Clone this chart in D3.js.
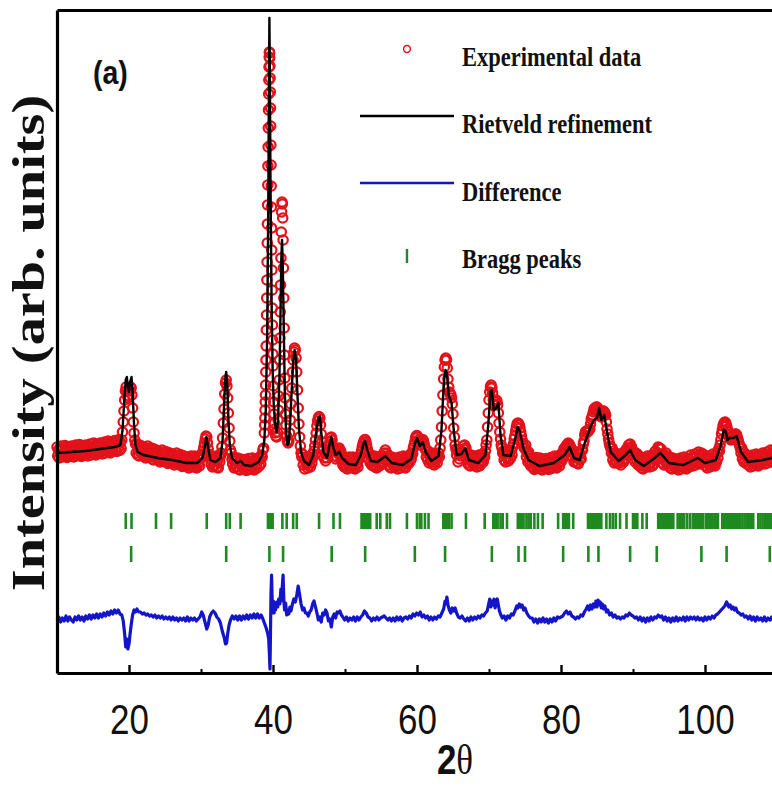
<!DOCTYPE html>
<html>
<head>
<meta charset="utf-8">
<script src="https://cdn.jsdelivr.net/npm/d3@7"></script>
<style>
  body { margin: 0; background: #fff; }
  svg { display: block; }
</style>
</head>
<body>
<div id="chart"></div>
<script>
const canvas = { w: 772, h: 786 };
const plot = { left: 57, right: 777, top: 10, bottom: 673 };
const stretch = 1.2;

// observed pattern [2theta, counts]
const observed = [
[10,2260],[10.1,2170],[10.2,2230],[10.3,2150],[10.4,2250],[10.5,2190],[10.6,2270],[10.7,2160],[10.8,2240],[10.9,2180],
[11,2185],[11.1,2275],[11.2,2165],[11.3,2225],[11.4,2155],[11.5,2265],[11.6,2195],[11.7,2255],[11.8,2175],[11.9,2245],
[12,2270],[12.1,2180],[12.2,2240],[12.3,2160],[12.4,2260],[12.5,2200],[12.6,2280],[12.7,2170],[12.8,2250],[12.9,2190],
[13,2195],[13.1,2285],[13.2,2175],[13.3,2235],[13.4,2165],[13.5,2275],[13.6,2205],[13.7,2265],[13.8,2185],[13.9,2255],
[14,2280],[14.1,2190],[14.2,2250],[14.3,2170],[14.4,2270],[14.5,2210],[14.6,2290],[14.7,2180],[14.8,2260],[14.9,2200],
[15,2210],[15.1,2300],[15.2,2190],[15.3,2250],[15.4,2180],[15.5,2290],[15.6,2220],[15.7,2280],[15.8,2200],[15.9,2270],
[16,2300],[16.1,2210],[16.2,2270],[16.3,2190],[16.4,2290],[16.5,2230],[16.6,2310],[16.7,2200],[16.8,2280],[16.9,2220],
[17,2230],[17.1,2320],[17.2,2210],[17.3,2270],[17.4,2200],[17.5,2310],[17.6,2240],[17.7,2300],[17.8,2220],[17.9,2290],
[18,2325],[18.1,2235],[18.2,2295],[18.3,2215],[18.4,2315],[18.5,2255],[18.6,2335],[18.7,2225],[18.8,2305],[18.9,2245],
[19,2330],[19.1,2410],[19.2,2510],[19.3,2620],[19.4,2730],[19.5,2820],[19.6,2860],[19.7,2820],[19.8,2770],[19.9,2750],
[20,2770],[20.1,2820],[20.2,2860],[20.3,2850],[20.4,2780],[20.5,2650],[20.6,2510],[20.7,2400],[20.8,2330],[20.9,2290],
[21,2200],[21.1,2290],[21.2,2180],[21.3,2240],[21.4,2170],[21.5,2280],[21.6,2210],[21.7,2270],[21.8,2190],[21.9,2260],
[22,2260],[22.1,2170],[22.2,2230],[22.3,2150],[22.4,2250],[22.5,2190],[22.6,2270],[22.7,2160],[22.8,2240],[22.9,2180],
[23,2160],[23.1,2250],[23.2,2140],[23.3,2200],[23.4,2130],[23.5,2240],[23.6,2170],[23.7,2230],[23.8,2150],[23.9,2220],
[24,2220],[24.1,2130],[24.2,2190],[24.3,2110],[24.4,2210],[24.5,2150],[24.6,2230],[24.7,2120],[24.8,2200],[24.9,2140],
[25,2125],[25.1,2215],[25.2,2105],[25.3,2165],[25.4,2095],[25.5,2205],[25.6,2135],[25.7,2195],[25.8,2115],[25.9,2185],
[26,2190],[26.1,2100],[26.2,2160],[26.3,2080],[26.4,2180],[26.5,2120],[26.6,2200],[26.7,2090],[26.8,2170],[26.9,2110],
[27,2095],[27.1,2185],[27.2,2075],[27.3,2135],[27.4,2065],[27.5,2175],[27.6,2105],[27.7,2165],[27.8,2085],[27.9,2155],
[28,2160],[28.1,2070],[28.2,2130],[28.3,2050],[28.4,2150],[28.5,2090],[28.6,2170],[28.7,2060],[28.8,2140],[28.9,2080],
[29,2080],[29.1,2170],[29.2,2060],[29.3,2120],[29.4,2050],[29.5,2160],[29.6,2090],[29.7,2150],[29.8,2070],[29.9,2140],
[30,2150],[30.1,2190],[30.2,2170],[30.3,2220],[30.4,2260],[30.5,2300],[30.6,2340],[30.7,2370],[30.8,2360],[30.9,2300],
[31,2240],[31.1,2190],[31.2,2170],[31.3,2140],[31.4,2090],[31.5,2160],[31.6,2060],[31.7,2150],[31.8,2070],[31.9,2160],
[32,2080],[32.1,2170],[32.2,2060],[32.3,2120],[32.4,2050],[32.5,2160],[32.6,2110],[32.7,2170],[32.8,2200],[32.9,2260],
[33,2350],[33.1,2500],[33.2,2640],[33.3,2790],[33.4,2900],[33.5,2930],[33.6,2870],[33.7,2750],[33.8,2600],[33.9,2450],
[34,2320],[34.1,2230],[34.2,2200],[34.3,2140],[34.4,2090],[34.5,2160],[34.6,2050],[34.7,2130],[34.8,2060],[34.9,2120],
[35,2060],[35.1,2150],[35.2,2040],[35.3,2100],[35.4,2030],[35.5,2140],[35.6,2070],[35.7,2130],[35.8,2050],[35.9,2120],
[36,2135],[36.1,2045],[36.2,2105],[36.3,2025],[36.4,2125],[36.5,2065],[36.6,2145],[36.7,2035],[36.8,2115],[36.9,2055],
[37,2060],[37.1,2150],[37.2,2040],[37.3,2100],[37.4,2030],[37.5,2140],[37.6,2070],[37.7,2130],[37.8,2050],[37.9,2120],
[38,2150],[38.1,2070],[38.2,2140],[38.3,2090],[38.4,2180],[38.5,2160],[38.6,2230],[38.7,2250],[38.8,2400],[38.85,2480],
[38.875,2550],[38.9,2630],[38.925,2710],[38.95,2780],[38.975,2880],[39,3010],[39.025,3130],[39.05,3270],[39.075,3430],[39.1,3580],
[39.125,3750],[39.15,3930],[39.175,4110],[39.2,4300],[39.225,4490],[39.25,4680],[39.275,4880],[39.3,5070],[39.325,5260],[39.35,5450],
[39.375,5630],[39.4,5790],[39.425,5930],[39.45,6060],[39.475,6160],[39.5,6210],[39.525,6200],[39.55,6150],[39.575,6070],[39.6,5950],
[39.625,5810],[39.65,5650],[39.675,5470],[39.7,5280],[39.725,5080],[39.75,4870],[39.775,4660],[39.8,4450],[39.825,4230],[39.85,4030],
[39.875,3830],[39.9,3650],[39.925,3480],[39.95,3330],[39.975,3190],[40,3070],[40.05,2870],[40.1,2710],[40.15,2590],[40.2,2500],
[40.25,2440],[40.3,2400],[40.4,2370],[40.5,2360],[40.6,2410],[40.7,2530],[40.75,2630],[40.8,2770],[40.85,2930],[40.9,3130],
[40.95,3350],[41,3610],[41.05,3880],[41.1,4150],[41.15,4410],[41.2,4610],[41.25,4710],[41.3,4690],[41.35,4550],[41.4,4330],
[41.45,4050],[41.5,3750],[41.55,3450],[41.6,3180],[41.65,2950],[41.7,2750],[41.75,2590],[41.8,2480],[41.9,2370],[42,2320],
[42.1,2300],[42.2,2320],[42.3,2400],[42.4,2530],[42.5,2690],[42.6,2850],[42.7,3010],[42.8,3130],[42.9,3210],[43,3250],
[43.1,3230],[43.2,3150],[43.3,3010],[43.4,2830],[43.5,2650],[43.6,2490],[43.7,2360],[43.8,2270],[43.9,2200],[44,2160],
[44.1,2190],[44.2,2080],[44.3,2140],[44.4,2040],[44.5,2150],[44.6,2090],[44.7,2160],[44.8,2050],[44.9,2130],
[45,2070],[45.1,2160],[45.2,2060],[45.3,2140],[45.4,2100],[45.5,2190],[45.6,2160],[45.7,2220],[45.8,2270],[45.9,2330],
[46,2400],[46.1,2470],[46.2,2520],[46.3,2550],[46.4,2565],[46.5,2550],[46.6,2480],[46.7,2390],[46.8,2310],[46.9,2250],
[47,2230],[47.1,2150],[47.2,2200],[47.3,2120],[47.4,2190],[47.5,2150],[47.6,2210],[47.7,2230],[47.8,2280],[47.9,2310],
[48,2350],[48.1,2360],[48.2,2330],[48.3,2270],[48.4,2230],[48.5,2170],[48.6,2230],[48.7,2140],[48.8,2220],[48.9,2160],
[49,2240],[49.1,2190],[49.2,2250],[49.3,2200],[49.4,2220],[49.5,2140],[49.6,2180],[49.7,2080],[49.8,2150],[49.9,2060],
[50,2150],[50.1,2060],[50.2,2120],[50.3,2040],[50.4,2140],[50.5,2080],[50.6,2160],[50.7,2050],[50.8,2130],[50.9,2070],
[51,2070],[51.1,2160],[51.2,2050],[51.3,2110],[51.4,2040],[51.5,2150],[51.6,2080],[51.7,2140],[51.8,2060],[51.9,2130],
[52,2150],[52.1,2160],[52.2,2190],[52.3,2220],[52.4,2260],[52.5,2290],[52.6,2310],[52.7,2330],[52.8,2335],[52.9,2310],
[53,2280],[53.1,2240],[53.2,2210],[53.3,2140],[53.4,2190],[53.5,2100],[53.6,2170],[53.7,2080],[53.8,2150],[53.9,2070],
[54,2080],[54.1,2170],[54.2,2060],[54.3,2120],[54.4,2050],[54.5,2160],[54.6,2090],[54.7,2150],[54.8,2070],[54.9,2140],
[55,2170],[55.1,2090],[55.2,2160],[55.3,2110],[55.4,2200],[55.5,2170],[55.6,2230],[55.7,2160],[55.8,2200],[55.9,2120],
[56,2080],[56.1,2170],[56.2,2060],[56.3,2120],[56.4,2050],[56.5,2160],[56.6,2090],[56.7,2150],[56.8,2070],[56.9,2140],
[57,2150],[57.1,2060],[57.2,2120],[57.3,2040],[57.4,2140],[57.5,2080],[57.6,2160],[57.7,2050],[57.8,2130],[57.9,2070],
[58,2080],[58.1,2170],[58.2,2060],[58.3,2120],[58.4,2050],[58.5,2160],[58.6,2100],[58.7,2160],[58.8,2090],[58.9,2170],
[59,2110],[59.1,2190],[59.2,2140],[59.3,2200],[59.4,2190],[59.5,2250],[59.6,2280],[59.7,2310],[59.8,2350],[59.9,2370],
[60,2375],[60.1,2360],[60.2,2330],[60.3,2300],[60.4,2280],[60.5,2285],[60.6,2310],[60.7,2330],[60.8,2335],[60.9,2320],
[61,2290],[61.1,2250],[61.2,2230],[61.3,2160],[61.4,2230],[61.5,2130],[61.6,2190],[61.7,2100],[61.8,2180],[61.9,2120],
[62,2110],[62.1,2200],[62.2,2090],[62.3,2150],[62.4,2080],[62.5,2190],[62.6,2120],[62.7,2180],[62.8,2100],[62.9,2170],
[63,2200],[63.1,2160],[63.2,2250],[63.3,2330],[63.4,2460],[63.5,2620],[63.6,2780],[63.7,2940],[63.8,3060],[63.9,3130],
[64,3150],[64.1,3130],[64.2,3050],[64.3,2940],[64.4,2860],[64.5,2810],[64.6,2795],[64.7,2780],[64.8,2750],[64.9,2690],
[65,2590],[65.1,2450],[65.2,2360],[65.3,2280],[65.4,2240],[65.5,2180],[65.6,2230],[65.7,2110],[65.8,2200],[65.9,2140],
[66,2210],[66.1,2170],[66.2,2220],[66.3,2210],[66.4,2270],[66.5,2240],[66.6,2280],[66.7,2240],[66.8,2250],[66.9,2180],
[67,2100],[67.1,2190],[67.2,2080],[67.3,2140],[67.4,2070],[67.5,2180],[67.6,2110],[67.7,2170],[67.8,2090],[67.9,2160],
[68,2170],[68.1,2080],[68.2,2140],[68.3,2060],[68.4,2160],[68.5,2100],[68.6,2180],[68.7,2070],[68.8,2150],[68.9,2090],
[69,2110],[69.1,2190],[69.2,2110],[69.3,2180],[69.4,2160],[69.5,2220],[69.6,2280],[69.7,2330],[69.8,2460],[69.9,2600],
[70,2730],[70.1,2810],[70.2,2860],[70.3,2880],[70.4,2850],[70.5,2800],[70.6,2730],[70.7,2690],[70.8,2685],[70.9,2710],
[71,2730],[71.1,2720],[71.2,2680],[71.3,2600],[71.4,2500],[71.5,2410],[71.6,2340],[71.7,2280],[71.8,2250],[71.9,2200],
[72,2220],[72.1,2130],[72.2,2190],[72.3,2110],[72.4,2210],[72.5,2150],[72.6,2230],[72.7,2120],[72.8,2200],[72.9,2140],
[73,2150],[73.1,2230],[73.2,2180],[73.3,2260],[73.4,2290],[73.5,2340],[73.6,2370],[73.7,2420],[73.8,2460],[73.9,2490],
[74,2500],[74.1,2495],[74.2,2480],[74.3,2450],[74.4,2410],[74.5,2370],[74.6,2330],[74.7,2300],[74.8,2270],[74.9,2250],
[75,2240],[75.1,2280],[75.2,2160],[75.3,2200],[75.4,2110],[75.5,2210],[75.6,2120],[75.7,2170],[75.8,2070],[75.9,2150],
[76,2145],[76.1,2055],[76.2,2115],[76.3,2035],[76.4,2135],[76.5,2075],[76.6,2155],[76.7,2045],[76.8,2125],[76.9,2065],
[77,2060],[77.1,2150],[77.2,2040],[77.3,2100],[77.4,2030],[77.5,2140],[77.6,2070],[77.7,2130],[77.8,2050],[77.9,2120],
[78,2145],[78.1,2055],[78.2,2115],[78.3,2035],[78.4,2135],[78.5,2075],[78.6,2155],[78.7,2045],[78.8,2125],[78.9,2065],
[79,2080],[79.1,2170],[79.2,2060],[79.3,2120],[79.4,2050],[79.5,2160],[79.6,2090],[79.7,2150],[79.8,2070],[79.9,2140],
[80,2190],[80.1,2120],[80.2,2190],[80.3,2150],[80.4,2240],[80.5,2200],[80.6,2260],[80.7,2230],[80.8,2280],[80.9,2270],
[81,2300],[81.1,2290],[81.2,2280],[81.3,2260],[81.4,2250],[81.5,2230],[81.6,2160],[81.7,2200],[81.8,2110],[81.9,2180],
[82,2120],[82.1,2210],[82.2,2100],[82.3,2160],[82.4,2090],[82.5,2200],[82.6,2130],[82.7,2190],[82.8,2140],[82.9,2230],
[83,2230],[83.1,2290],[83.2,2320],[83.3,2380],[83.4,2410],[83.5,2420],[83.6,2420],[83.7,2410],[83.8,2420],[83.9,2430],
[84,2440],[84.1,2490],[84.2,2540],[84.3,2560],[84.4,2580],[84.5,2610],[84.6,2640],[84.7,2650],[84.8,2650],[84.9,2660],
[85,2660],[85.1,2640],[85.2,2620],[85.3,2610],[85.4,2600],[85.5,2580],[85.6,2560],[85.7,2590],[85.8,2620],[85.9,2620],
[86,2610],[86.1,2600],[86.2,2580],[86.3,2510],[86.4,2440],[86.5,2390],[86.6,2340],[86.7,2300],[86.8,2270],[86.9,2250],
[87,2200],[87.1,2250],[87.2,2130],[87.3,2180],[87.4,2100],[87.5,2200],[87.6,2120],[87.7,2180],[87.8,2100],[87.9,2170],
[88,2190],[88.1,2100],[88.2,2160],[88.3,2080],[88.4,2180],[88.5,2120],[88.6,2200],[88.7,2110],[88.8,2180],[88.9,2140],
[89,2230],[89.1,2180],[89.2,2250],[89.3,2220],[89.4,2280],[89.5,2250],[89.6,2290],[89.7,2240],[89.8,2260],[89.9,2180],
[90,2220],[90.1,2140],[90.2,2190],[90.3,2110],[90.4,2200],[90.5,2140],[90.6,2190],[90.7,2080],[90.8,2160],[90.9,2100],
[91,2070],[91.1,2160],[91.2,2050],[91.3,2110],[91.4,2040],[91.5,2150],[91.6,2080],[91.7,2140],[91.8,2060],[91.9,2130],
[92,2170],[92.1,2080],[92.2,2140],[92.3,2060],[92.4,2160],[92.5,2100],[92.6,2180],[92.7,2070],[92.8,2150],[92.9,2090],
[93,2130],[93.1,2220],[93.2,2130],[93.3,2200],[93.4,2150],[93.5,2260],[93.6,2190],[93.7,2250],[93.8,2180],[93.9,2240],
[94,2190],[94.1,2100],[94.2,2160],[94.3,2080],[94.4,2180],[94.5,2120],[94.6,2200],[94.7,2090],[94.8,2170],[94.9,2110],
[95,2070],[95.1,2160],[95.2,2050],[95.3,2110],[95.4,2040],[95.5,2150],[95.6,2080],[95.7,2140],[95.8,2060],[95.9,2130],
[96,2140],[96.1,2050],[96.2,2110],[96.3,2030],[96.4,2130],[96.5,2070],[96.6,2150],[96.7,2040],[96.8,2120],[96.9,2060],
[97,2070],[97.1,2160],[97.2,2050],[97.3,2110],[97.4,2040],[97.5,2150],[97.6,2080],[97.7,2140],[97.8,2060],[97.9,2130],
[98,2180],[98.1,2090],[98.2,2150],[98.3,2070],[98.4,2170],[98.5,2110],[98.6,2190],[98.7,2080],[98.8,2160],[98.9,2100],
[99,2120],[99.1,2210],[99.2,2100],[99.3,2160],[99.4,2090],[99.5,2200],[99.6,2130],[99.7,2190],[99.8,2110],[99.9,2180],
[100,2160],[100.1,2070],[100.2,2130],[100.3,2050],[100.4,2150],[100.5,2090],[100.6,2170],[100.7,2060],[100.8,2140],[100.9,2080],
[101,2100],[101.1,2190],[101.2,2080],[101.3,2140],[101.4,2070],[101.5,2180],[101.6,2110],[101.7,2200],[101.8,2150],[101.9,2240],
[102,2220],[102.1,2280],[102.2,2330],[102.3,2390],[102.4,2430],[102.5,2470],[102.6,2490],[102.7,2505],[102.8,2510],[102.9,2495],
[103,2470],[103.1,2440],[103.2,2410],[103.3,2380],[103.4,2360],[103.5,2340],[103.6,2330],[103.7,2340],[103.8,2350],[103.9,2360],
[104,2370],[104.1,2380],[104.2,2390],[104.3,2390],[104.4,2380],[104.5,2350],[104.6,2330],[104.7,2300],[104.8,2280],[104.9,2250],
[105,2200],[105.1,2250],[105.2,2140],[105.3,2190],[105.4,2110],[105.5,2200],[105.6,2120],[105.7,2170],[105.8,2090],[105.9,2160],
[106,2170],[106.1,2080],[106.2,2140],[106.3,2060],[106.4,2160],[106.5,2100],[106.6,2180],[106.7,2070],[106.8,2150],[106.9,2090],
[107,2100],[107.1,2190],[107.2,2080],[107.3,2140],[107.4,2070],[107.5,2180],[107.6,2110],[107.7,2170],[107.8,2090],[107.9,2160],
[108,2200],[108.1,2110],[108.2,2170],[108.3,2090],[108.4,2190],[108.5,2130],[108.6,2210],[108.7,2100],[108.8,2180],[108.9,2120],
[109,2140],[109.1,2230],[109.2,2120],[109.3,2180],[109.4,2110],[109.5,2220],[109.6,2150],[109.7,2210],[109.8,2130],[109.9,2200],
[110,2170]
];

// Rietveld fit [2theta, counts]
const calculated = [
[10,2200],[12,2210],[14,2220],[16,2240],[17,2250],[18,2260],[18.8,2280],[19.1,2430],[19.35,2730],[19.55,2930],[19.7,2960],[19.85,2850],[20,2810],
[20.15,2910],[20.35,2960],[20.5,2810],[20.7,2480],[20.9,2280],[21.2,2210],[22,2180],[24,2150],[26,2130],[28,2100],[29.5,2100],[30.2,2150],[30.5,2250],
[30.75,2360],[31,2250],[31.3,2130],[32,2110],[32.7,2150],[33,2330],[33.2,2680],[33.35,2930],[33.5,3010],[33.65,2880],[33.8,2550],[34,2280],[34.3,2150],
[35,2100],[35.5,2120],[36,2080],[37,2070],[38,2110],[38.5,2180],[38.8,2330],[39,2630],[39.2,3430],[39.35,4730],[39.45,6030],[39.5,6550],[39.55,6130],
[39.65,4930],[39.8,3730],[39.95,3030],[40.1,2680],[40.3,2480],[40.5,2410],[40.7,2530],[40.9,2980],[41.05,3630],[41.15,4130],[41.25,4330],[41.35,4110],
[41.5,3430],[41.65,2780],[41.8,2430],[42,2280],[42.2,2300],[42.4,2530],[42.6,2830],[42.8,3110],[43,3230],[43.2,3130],[43.4,2780],[43.6,2450],[43.9,2210],
[44.3,2120],[45,2080],[45.6,2180],[46,2410],[46.3,2550],[46.5,2570],[46.7,2410],[47,2210],[47.5,2150],[47.9,2300],[48.1,2360],[48.3,2280],[48.7,2180],
[49.2,2210],[49.6,2150],[50.5,2090],[51.5,2080],[52.2,2180],[52.6,2300],[52.8,2320],[53.1,2230],[53.6,2120],[54.5,2110],[55.6,2170],[56.5,2100],[58,2080],
[59.2,2140],[59.7,2290],[60,2350],[60.4,2270],[60.8,2310],[61.2,2210],[62,2120],[63,2170],[63.4,2430],[63.7,2880],[63.95,3030],[64.15,3000],[64.4,2780],
[64.8,2700],[65.1,2430],[65.5,2180],[66.2,2190],[66.7,2250],[67.2,2130],[68.5,2100],[69.5,2180],[69.9,2480],[70.2,2810],[70.4,2830],[70.65,2630],
[71,2650],[71.3,2700],[71.6,2380],[72,2180],[73,2170],[73.6,2330],[74,2460],[74.3,2410],[74.8,2240],[75.5,2130],[77,2070],[79,2100],[80.5,2180],
[81.2,2260],[81.8,2150],[82.6,2130],[83.2,2280],[83.7,2380],[84.2,2480],[84.6,2530],[85,2550],[85.3,2650],[85.6,2530],[86,2580],[86.4,2410],[86.9,2210],
[88,2120],[89,2180],[89.6,2230],[90.3,2130],[91.5,2070],[93,2150],[93.8,2200],[95,2100],[97,2080],[99,2150],[100,2100],[101.5,2130],[102.2,2280],
[102.6,2430],[102.9,2410],[103.1,2330],[103.4,2350],[104,2350],[104.4,2370],[105,2210],[106,2110],[108,2130],[110,2160]
];

// observed minus calculated [2theta, counts]
const difference = [
[10,-10],[10.25,20],[10.5,-30],[10.75,10],[11,-20],[11.25,30],[11.5,-20],[11.75,20],[12,-10],[12.25,-30],[12.5,20],[12.75,-10],[13,30],[13.25,-10],
[13.5,20],[13.75,-20],[14,30],[14.25,0],[14.5,40],[14.75,0],[15,40],[15.25,10],[15.5,50],[15.75,10],[16,50],[16.25,20],[16.5,60],[16.75,30],[17,70],
[17.25,40],[17.5,80],[17.75,50],[18,90],[18.25,60],[18.5,90],[18.75,50],[19,40],[19.2,-20],[19.4,-150],[19.55,-280],[19.7,-200],[19.85,-300],[20,-250],
[20.15,-150],[20.3,-60],[20.5,40],[20.7,90],[20.9,70],[21.1,100],[21.35,70],[21.6,70],[21.85,50],[22.1,60],[22.35,40],[22.6,50],[22.85,30],[23.1,40],
[23.35,20],[23.6,40],[23.85,10],[24.1,30],[24.35,10],[24.6,30],[24.85,0],[25.1,20],[25.35,0],[25.6,20],[25.85,-10],[26.1,20],[26.35,-10],[26.6,10],
[26.85,-20],[27.1,10],[27.35,-10],[27.6,10],[27.85,-20],[28.1,20],[28.35,-20],[28.6,10],[28.85,-10],[29.1,10],[29.35,-20],[29.6,0],[29.85,20],
[30.1,70],[30.3,40],[30.55,-30],[30.8,-100],[31,-60],[31.2,20],[31.45,60],[31.7,80],[31.95,60],[32.2,20],[32.45,0],[32.7,-40],[32.95,-120],[33.2,-180],
[33.4,-250],[33.55,-240],[33.7,-150],[33.9,-60],[34.1,-10],[34.35,30],[34.6,0],[34.85,30],[35.1,-10],[35.35,30],[35.6,-10],[35.85,30],[36.1,0],
[36.35,40],[36.6,0],[36.85,40],[37.1,10],[37.35,50],[37.6,10],[37.85,50],[38.1,10],[38.35,40],[38.6,0],[38.85,-50],[39.05,-90],[39.25,-140],[39.4,-200],
[39.5,-350],[39.58,-500],[39.65,-150],[39.72,250],[39.8,440],[39.88,200],[39.95,60],[40.05,180],[40.15,60],[40.25,140],[40.35,90],[40.5,170],[40.65,120],
[40.8,200],[40.95,150],[41.1,300],[41.2,180],[41.3,340],[41.4,440],[41.5,200],[41.6,90],[41.75,160],[41.9,40],[42.05,90],[42.2,50],[42.35,120],[42.5,80],
[42.7,150],[42.9,200],[43.1,170],[43.3,240],[43.5,330],[43.7,240],[43.9,150],[44.1,90],[44.3,110],[44.5,60],[44.7,60],[44.9,30],[45.1,70],[45.3,90],
[45.5,150],[45.7,180],[45.9,120],[46.1,60],[46.3,-10],[46.5,20],[46.7,-30],[46.9,60],[47.1,40],[47.3,90],[47.5,60],[47.7,-20],[47.9,0],[48.1,-80],
[48.3,20],[48.5,50],[48.7,10],[48.9,70],[49.1,60],[49.3,80],[49.5,40],[49.7,20],[49.95,-10],[50.2,20],[50.45,-20],[50.7,10],[50.95,-10],[51.2,20],
[51.45,-20],[51.7,20],[51.95,-10],[52.2,20],[52.45,40],[52.7,80],[52.95,60],[53.2,20],[53.45,10],[53.7,-20],[53.95,10],[54.2,-10],[54.45,20],[54.7,-10],
[54.95,10],[55.2,20],[55.45,30],[55.7,10],[55.95,-10],[56.2,10],[56.45,-20],[56.7,10],[56.95,-20],[57.2,20],[57.45,-10],[57.7,20],[57.95,-20],[58.2,10],
[58.45,20],[58.7,0],[58.95,30],[59.2,10],[59.45,50],[59.7,30],[59.95,60],[60.2,40],[60.45,70],[60.7,20],[60.95,40],[61.2,10],[61.45,30],[61.7,-10],
[61.95,20],[62.2,-10],[62.45,20],[62.7,0],[62.95,30],[63.2,20],[63.45,60],[63.7,100],[63.9,180],[64,150],[64.15,220],[64.3,140],[64.5,90],[64.7,60],
[64.9,110],[65.1,80],[65.3,110],[65.5,60],[65.75,20],[66,10],[66.25,30],[66.5,0],[66.75,-20],[67,10],[67.25,-20],[67.5,20],[67.75,-10],[68,20],[68.25,0],
[68.5,30],[68.75,10],[69,40],[69.25,30],[69.5,60],[69.75,80],[69.95,150],[70.1,200],[70.25,120],[70.4,180],[70.55,140],[70.7,200],[70.85,110],[71,160],
[71.15,200],[71.3,140],[71.45,80],[71.65,40],[71.85,10],[72.1,30],[72.35,-10],[72.6,30],[72.85,10],[73.1,50],[73.35,40],[73.6,80],[73.85,130],[74,110],
[74.2,150],[74.4,120],[74.6,140],[74.8,90],[75,110],[75.25,60],[75.5,30],[75.75,10],[76,10],[76.25,-30],[76.5,0],[76.75,-40],[77,0],[77.25,-30],[77.5,10],
[77.75,-30],[78,0],[78.25,-40],[78.5,0],[78.75,-30],[79,10],[79.25,-20],[79.5,20],[79.75,10],[80,20],[80.25,30],[80.5,60],[80.75,80],[81,50],[81.25,70],
[81.5,30],[81.75,20],[82,0],[82.25,20],[82.5,10],[82.75,40],[83,30],[83.25,70],[83.5,100],[83.7,130],[83.9,90],[84.1,140],[84.3,100],[84.5,150],[84.7,120],
[84.85,180],[85,120],[85.15,190],[85.3,140],[85.45,170],[85.6,110],[85.75,150],[85.9,100],[86.1,130],[86.3,70],[86.5,90],[86.75,40],[87,60],[87.25,20],
[87.5,40],[87.75,10],[88,20],[88.25,0],[88.5,20],[88.75,10],[89,40],[89.25,30],[89.5,60],[89.75,40],[90,30],[90.25,10],[90.5,20],[90.75,-10],[91,20],
[91.25,-20],[91.5,10],[91.75,-30],[92,10],[92.25,-20],[92.5,20],[92.75,-10],[93,20],[93.25,10],[93.5,40],[93.75,20],[94,30],[94.25,-10],[94.5,20],
[94.75,-20],[95,10],[95.25,-30],[95.5,10],[95.75,-20],[96,20],[96.25,-20],[96.5,10],[96.75,-10],[97,20],[97.25,-20],[97.5,20],[97.75,-10],[98,20],
[98.25,0],[98.5,20],[98.75,-10],[99,20],[99.25,-10],[99.5,10],[99.75,-20],[100,20],[100.25,-10],[100.5,20],[100.75,0],[101,30],[101.25,10],[101.5,40],
[101.75,50],[102,70],[102.25,90],[102.5,110],[102.75,130],[103,170],[103.15,150],[103.3,120],[103.5,140],[103.7,100],[103.9,120],[104.1,90],[104.3,110],
[104.5,70],[104.75,60],[105,40],[105.25,50],[105.5,20],[105.75,30],[106,0],[106.25,30],[106.5,-10],[106.75,20],[107,-20],[107.25,20],[107.5,-10],
[107.75,10],[108,-20],[108.25,20],[108.5,-20],[108.75,10],[109,-10],[109.25,20],[109.5,-20],[109.75,10],[110,-10]
];

// reflection positions, two phases
const braggPhase1 = [19.55,20.35,23.75,25.85,30.8,33.5,34.0,35.5,39.3,39.45,39.6,39.75,39.95,41.3,41.9,42.8,43.3,46.4,48.4,49.3,52.3,52.5,52.7,52.9,
  53.1,53.3,53.5,54.4,54.9,55.8,56.25,58.6,60.0,60.4,60.6,61.1,61.6,63.65,63.85,64.05,64.25,64.45,64.8,66.8,69.4,70.6,70.8,71.0,71.2,71.6,71.9,72.5,
  74.0,74.2,74.4,74.6,74.8,75.2,75.5,75.8,76.3,76.8,77.45,79.6,80.3,80.55,80.8,81.1,81.7,83.75,83.95,84.15,84.35,84.55,84.75,84.95,85.15,85.35,85.6,
  86.3,86.8,87.2,87.6,88.2,89.1,90.0,90.3,90.6,91.3,91.9,93.5,93.7,93.9,94.1,94.3,94.5,94.7,94.9,95.1,95.3,95.6,96.2,96.5,96.8,97.1,97.5,97.9,98.3,
  98.5,98.7,98.9,99.1,99.3,99.5,99.7,100.1,100.4,100.7,101.0,101.3,101.5,101.8,102.4,102.6,102.8,103.0,103.2,103.4,103.6,103.8,104.0,104.3,104.6,
  104.9,105.2,105.5,105.8,106.1,106.4,106.7,107.4,107.7,108.0,108.3,108.6,108.9,109.2];
const braggPhase2 = [20.3,33.5,39.5,41.4,48.15,52.8,59.7,63.9,70.4,74.1,75.0,80.3,83.8,85.2,89.6,93.3,99.5,103.0,109.0];

const majorTicks = [20, 40, 60, 80, 100];
const minorTicks = [30, 50, 70, 90];
const legendLabels = ["Experimental data", "Rietveld refinement", "Difference", "Bragg peaks"];

const diffOffset = 540;
const braggLevels = [1520, 1190];

const colors = { obs: "#e3121a", calc: "#000", diff: "#1414c8", bragg: "#1f8a1f" };

const x = d3.scaleLinear().domain([10, 110]).range([plot.left, plot.right]);
const y = d3.scaleLinear().domain([0, 6630]).range([plot.bottom, plot.top]);

const svg = d3.select("#chart")
    .append("svg")
    .attr("width", canvas.w)
    .attr("height", canvas.h)
    .attr("viewBox", `0 0 ${canvas.w} ${canvas.h}`)
    .style("background", "#fff");

const line = d3.line()
    .x(d => x(d[0]))
    .y(d => y(d[1]));

// observed circles
svg.append("g")
    .selectAll("circle")
    .data(observed)
    .join("circle")
    .attr("cx", d => x(d[0]))
    .attr("cy", d => y(d[1]))
    .attr("r", 4.7)
    .attr("fill", "none")
    .attr("stroke", colors.obs)
    .attr("stroke-width", 2.2);

svg.append("path")
    .datum(calculated)
    .attr("d", line)
    .attr("fill", "none")
    .attr("stroke", colors.calc)
    .attr("stroke-width", 2.4)
    .attr("stroke-linejoin", "round");

svg.append("path")
    .datum(difference)
    .attr("d", d3.line().x(d => x(d[0])).y(d => y(diffOffset + d[1])))
    .attr("fill", "none")
    .attr("stroke", colors.diff)
    .attr("stroke-width", 3.2)
    .attr("stroke-linejoin", "round");

// bragg markers
[braggPhase1, braggPhase2].forEach((peaks, i) => {
    svg.append("g")
        .selectAll("line")
        .data(peaks)
        .join("line")
        .attr("x1", d => x(d))
        .attr("x2", d => x(d))
        .attr("y1", y(braggLevels[i]) - 8)
        .attr("y2", y(braggLevels[i]) + 8)
        .attr("stroke", colors.bragg)
        .attr("stroke-width", 2.6);
});

// axes
const xAxis = svg.append("g")
    .attr("transform", `translate(0,${plot.bottom})`)
    .call(d3.axisBottom(x).tickValues(majorTicks).tickSize(-8).tickSizeOuter(0).tickFormat(d3.format("d")));

xAxis.select(".domain").attr("stroke-width", 3.2);
xAxis.selectAll(".tick line").attr("stroke-width", 2.4);
xAxis.selectAll(".tick text")
    .attr("y", 0)
    .attr("dy", null)
    .attr("transform", `translate(0,61) scale(1,${stretch})`)
    .attr("font-family", "'Liberation Sans', Arial, sans-serif")
    .attr("font-size", 35)
    .attr("fill", "#111");

svg.append("g")
    .attr("transform", `translate(0,${plot.bottom})`)
    .call(d3.axisBottom(x).tickValues(minorTicks).tickSize(-4).tickSizeOuter(0).tickFormat(""))
    .call(g => g.select(".domain").remove())
    .selectAll(".tick line").attr("stroke-width", 2);

svg.append("g")
    .attr("transform", `translate(${plot.left},0)`)
    .call(d3.axisLeft(y).ticks(0).tickSizeOuter(0))
    .select(".domain").attr("stroke-width", 3.2);

svg.append("g")
    .attr("transform", `translate(0,${plot.top})`)
    .call(d3.axisTop(x).ticks(0).tickSizeOuter(0))
    .select(".domain").attr("stroke-width", 3.2);

// titles
svg.append("text")
    .attr("transform", `translate(44,343) scale(1,${stretch}) rotate(-90)`)
    .attr("text-anchor", "middle")
    .attr("font-family", "'Liberation Serif', 'Times New Roman', serif")
    .attr("font-weight", "bold")
    .attr("font-size", 47)
    .attr("fill", "#111")
    .text("Intensity (arb. units)");

const xTitle = svg.append("text")
    .attr("transform", `translate(455,774) scale(1,${stretch})`)
    .attr("text-anchor", "middle")
    .attr("fill", "#111");
xTitle.append("tspan")
    .attr("font-family", "'Liberation Sans', Arial, sans-serif")
    .attr("font-weight", "bold")
    .attr("font-size", 35)
    .text("2");
xTitle.append("tspan")
    .attr("font-family", "'Liberation Serif', 'Times New Roman', serif")
    .attr("font-size", 35)
    .text("θ");

svg.append("text")
    .attr("transform", `translate(93,84) scale(1,1.15)`)
    .attr("font-family", "'Liberation Sans', Arial, sans-serif")
    .attr("font-weight", "bold")
    .attr("font-size", 28.5)
    .attr("fill", "#111")
    .text("(a)");

// legend
const legendRows = [66, 133, 201, 268];
const legend = svg.append("g");

legend.append("circle")
    .attr("cx", 407).attr("cy", 49).attr("r", 3.4)
    .attr("fill", "none").attr("stroke", colors.obs).attr("stroke-width", 1.5);
legend.append("line")
    .attr("x1", 360).attr("x2", 454).attr("y1", 116).attr("y2", 116)
    .attr("stroke", colors.calc).attr("stroke-width", 2.4);
legend.append("line")
    .attr("x1", 360).attr("x2", 454).attr("y1", 183).attr("y2", 183)
    .attr("stroke", colors.diff).attr("stroke-width", 2.4);
legend.append("line")
    .attr("x1", 407).attr("x2", 407).attr("y1", 249).attr("y2", 263)
    .attr("stroke", colors.bragg).attr("stroke-width", 2.4);

legend.selectAll("text")
    .data(legendLabels)
    .join("text")
    .attr("transform", (d, i) => `translate(462,${legendRows[i]}) scale(1,${stretch})`)
    .attr("font-family", "'Liberation Serif', 'Times New Roman', serif")
    .attr("font-weight", "bold")
    .attr("font-size", 22.5)
    .attr("fill", "#111")
    .text(d => d);
</script>
</body>
</html>
